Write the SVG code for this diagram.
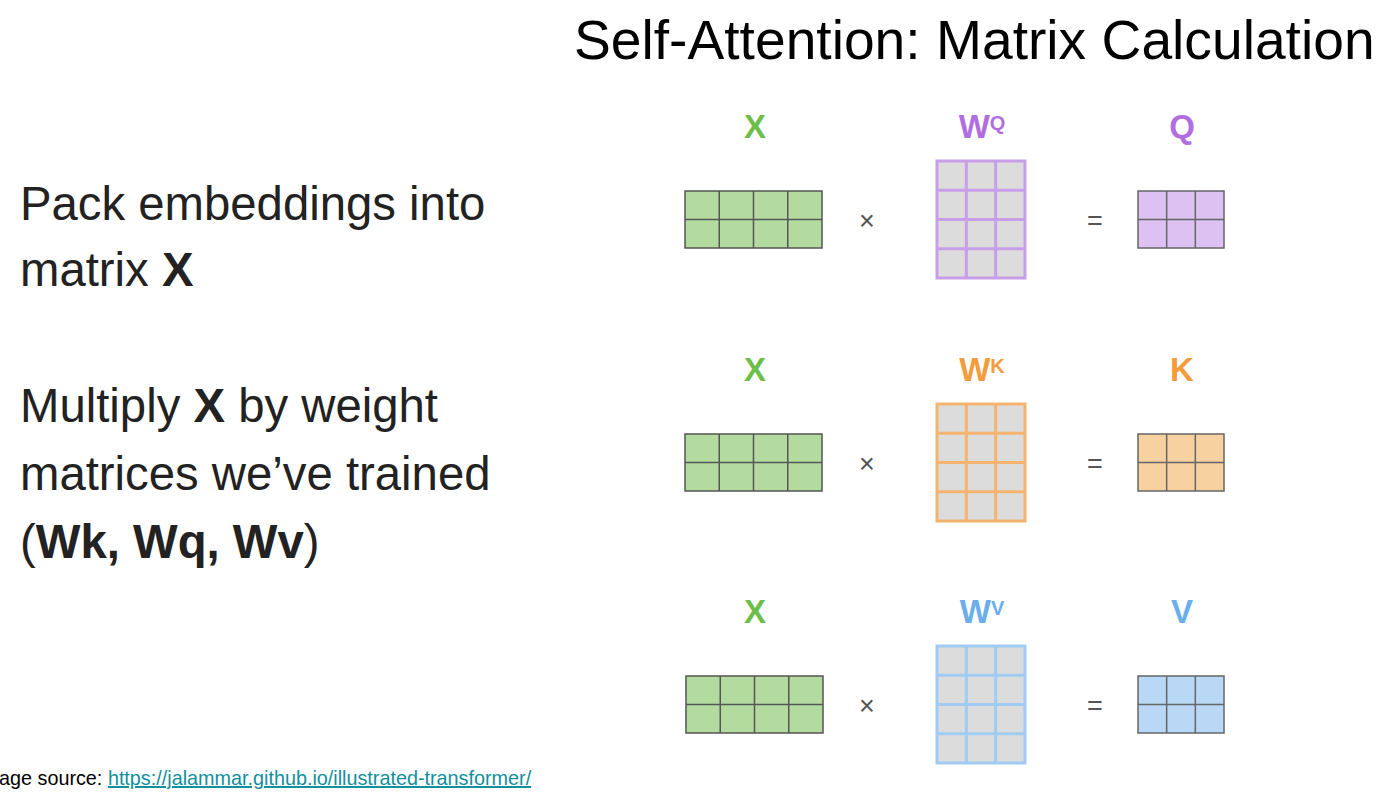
<svg xmlns="http://www.w3.org/2000/svg" xmlns:xlink="http://www.w3.org/1999/xlink" width="1382" height="792" viewBox="0 0 1382 792">
<style>
.t{font-family:"Liberation Sans",Arial,Helvetica,sans-serif}
.title{font-size:55.2px;fill:#000}
.body{font-size:47.3px;fill:#222}
.lbl{font-size:33px;font-weight:bold;text-anchor:middle}
.wl{font-size:33px;font-weight:bold;text-anchor:middle}
.sup{font-size:20px}
.op{font-size:27px;fill:#555;text-anchor:middle}
.gx{fill:#6cbf4a}.gq{fill:#b06ee0}.gk{fill:#f39c3c}.gv{fill:#6aaeec}
.mx{fill:#b3dba0;stroke:#555;stroke-width:1.5}
.wq{fill:#dcdcdc;stroke:#c89ee9;stroke-width:3}
.wk{fill:#dcdcdc;stroke:#f5b46e;stroke-width:3}
.wv{fill:#dcdcdc;stroke:#a0cbf3;stroke-width:3}
.rq{fill:#dcc1f2;stroke:#666;stroke-width:1.5}
.rk{fill:#f8d1a0;stroke:#666;stroke-width:1.5}
.rv{fill:#b9d8f6;stroke:#666;stroke-width:1.5}
.foot{font-size:19.8px;fill:#000}
.link{fill:#11909c;text-decoration:underline}
</style>
<defs>
<g id="xm">
<rect x="0" y="0" width="137" height="57"/>
<path d="M34.25 0V57M68.5 0V57M102.75 0V57M0 28.5H137" fill="none"/>
</g>
<g id="wm">
<rect x="0" y="0" width="88" height="117"/>
<path d="M29.33 0V117M58.67 0V117M0 29.25H88M0 58.5H88M0 87.75H88" fill="none"/>
</g>
<g id="rm">
<rect x="0" y="0" width="86" height="57"/>
<path d="M28.67 0V57M57.33 0V57M0 28.5H86" fill="none"/>
</g>
</defs>

<g id="title"><text class="t title" x="574" y="59">Self-Attention: Matrix Calculation</text></g>

<g id="text-pack">
<text class="t body" x="20" y="220">Pack embeddings into</text>
<text class="t body" x="20" y="286">matrix <tspan font-weight="bold">X</tspan></text>
</g>
<g id="text-multiply">
<text class="t body" x="20" y="422">Multiply <tspan font-weight="bold">X</tspan> by weight</text>
<text class="t body" x="20" y="490">matrices we’ve trained</text>
<text class="t body" x="20" y="558">(<tspan font-weight="bold">Wk, Wq, Wv</tspan>)</text>
</g>

<!-- Row Q -->
<g id="row-q">
<g id="q-x-label"><text class="t lbl gx" x="755" y="138">X</text></g>
<g id="q-x-matrix"><use xlink:href="#xm" href="#xm" x="685" y="191" class="mx"/></g>
<g id="q-times"><text class="t op" x="867" y="230">×</text></g>
<g id="q-w-label"><text class="t wl gq" x="982" y="138">W<tspan class="sup" dy="-8">Q</tspan></text></g>
<g id="q-w-matrix"><use xlink:href="#wm" href="#wm" x="937" y="161" class="wq"/></g>
<g id="q-equals"><text class="t op" x="1095" y="230">=</text></g>
<g id="q-label"><text class="t lbl gq" x="1182" y="138">Q</text></g>
<g id="q-matrix"><use xlink:href="#rm" href="#rm" x="1138" y="191" class="rq"/></g>
</g>

<!-- Row K -->
<g id="row-k">
<g id="k-x-label"><text class="t lbl gx" x="755" y="381">X</text></g>
<g id="k-x-matrix"><use xlink:href="#xm" href="#xm" x="685" y="434" class="mx"/></g>
<g id="k-times"><text class="t op" x="867" y="473">×</text></g>
<g id="k-w-label"><text class="t wl gk" x="982" y="381">W<tspan class="sup" dy="-8">K</tspan></text></g>
<g id="k-w-matrix"><use xlink:href="#wm" href="#wm" x="937" y="404" class="wk"/></g>
<g id="k-equals"><text class="t op" x="1095" y="473">=</text></g>
<g id="k-label"><text class="t lbl gk" x="1182" y="381">K</text></g>
<g id="k-matrix"><use xlink:href="#rm" href="#rm" x="1138" y="434" class="rk"/></g>
</g>

<!-- Row V -->
<g id="row-v">
<g id="v-x-label"><text class="t lbl gx" x="755" y="623">X</text></g>
<g id="v-x-matrix"><use xlink:href="#xm" href="#xm" x="686" y="676" class="mx"/></g>
<g id="v-times"><text class="t op" x="867" y="715">×</text></g>
<g id="v-w-label"><text class="t wl gv" x="982" y="623">W<tspan class="sup" dy="-8">V</tspan></text></g>
<g id="v-w-matrix"><use xlink:href="#wm" href="#wm" x="937" y="646" class="wv"/></g>
<g id="v-equals"><text class="t op" x="1095" y="715">=</text></g>
<g id="v-label"><text class="t lbl gv" x="1182" y="623">V</text></g>
<g id="v-matrix"><use xlink:href="#rm" href="#rm" x="1138" y="676" class="rv"/></g>
</g>

<g id="connectors"></g>

<g id="footer"><text class="t foot" x="-1" y="785">age source: <tspan class="link">https://jalammar.github.io/illustrated-transformer/</tspan></text></g>
</svg>
